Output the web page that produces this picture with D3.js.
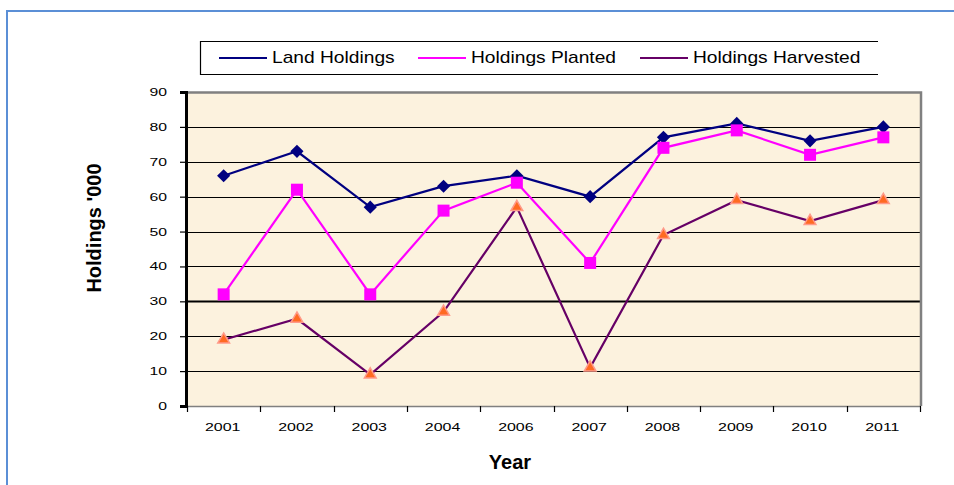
<!DOCTYPE html>
<html>
<head>
<meta charset="utf-8">
<script src="https://cdn.jsdelivr.net/npm/d3@7"></script>
<style>
  body { margin: 0; background: #fff; }
  svg { display: block; }
</style>
</head>
<body>
<svg id="chart" width="954" height="485"></svg>
<script>
// data
const years = ["2001", "2002", "2003", "2004", "2006", "2007", "2008", "2009", "2010", "2011"];
const landHoldings = [66, 73, 57, 63, 66, 60, 77, 81, 76, 80];
const holdingsPlanted = [32, 62, 32, 56, 64, 41, 74, 79, 72, 77];
const holdingsHarvested = [19, 25, 9, 27, 57, 11, 49, 59, 53, 59];
const yTicks = [0, 10, 20, 30, 40, 50, 60, 70, 80, 90];

const seriesNames = ["Land Holdings", "Holdings Planted", "Holdings Harvested"];

let svg = d3.select("#chart");
let plotLeft = 187, plotRight = 920, plotTop = 92, plotBottom = 406;

// outer frame (blue)
svg.append("rect")
    .attr("x", 7).attr("y", 11)
    .attr("width", 1000).attr("height", 1000)
    .attr("fill", "none")
    .attr("stroke", "#5b8fd6")
    .attr("stroke-width", 2);

let x = d3.scaleBand().domain(years).range([plotLeft, plotRight]).padding(0);
let y = d3.scaleLinear().domain([0, 90]).range([plotBottom, plotTop]);

// plot background
svg.append("rect")
    .attr("x", plotLeft).attr("y", plotTop)
    .attr("width", plotRight - plotLeft).attr("height", plotBottom - plotTop)
    .attr("fill", "#fcf2de");

// gridlines
svg.append("g").selectAll("line")
    .data(yTicks.filter(d => d > 0 && d < 90))
    .enter().append("line")
    .attr("x1", plotLeft).attr("x2", plotRight)
    .attr("y1", d => Math.round(y(d)) + 0.5)
    .attr("y2", d => Math.round(y(d)) + 0.5)
    .attr("stroke", "#000")
    .attr("stroke-width", d => d == 30 ? 2 : 1);

// plot border top / right (grey)
svg.append("path")
    .attr("d", "M" + plotLeft + "," + (plotTop + 0.5) + "H" + (plotRight + 1) + "V" + plotBottom)
    .attr("fill", "none")
    .attr("stroke", "#808080")
    .attr("stroke-width", 2.5);

// x axis
svg.append("line")
    .attr("x1", plotLeft).attr("x2", plotRight + 1)
    .attr("y1", plotBottom + 0.5).attr("y2", plotBottom + 0.5)
    .attr("stroke", "#808080").attr("stroke-width", 1.5);
let xTickPos = years.map(d => x(d)).concat([plotRight]);
svg.append("g").selectAll("line")
    .data(xTickPos)
    .enter().append("line")
    .attr("x1", d => Math.round(d) + 0.5).attr("x2", d => Math.round(d) + 0.5)
    .attr("y1", plotBottom).attr("y2", plotBottom + 6)
    .attr("stroke", "#000").attr("stroke-width", 1.2);

svg.append("g").selectAll("g")
    .data(years)
    .enter().append("g")
    .attr("transform", d => "translate(" + (x(d) + x.bandwidth() / 2 - 1) + "," + 431 + ") scale(1.45,1)")
    .append("text")
    .attr("text-anchor", "middle")
    .attr("font-family", "Liberation Sans, Arial, sans-serif")
    .attr("font-size", "11px")
    .attr("fill", "#000")
    .text(d => d);

// y axis
let yAxis = svg.append("g")
    .attr("transform", "translate(" + (plotLeft - 1) + ",0)")
    .call(d3.axisLeft(y).tickValues(yTicks).tickSize(6).tickFormat(""));
yAxis.select(".domain").attr("stroke", "#000").attr("stroke-width", 3);
yAxis.selectAll(".tick line").attr("stroke", "#000").attr("stroke-width", 1.2);

svg.append("g").selectAll("g")
    .data(yTicks)
    .enter().append("g")
    .attr("transform", d => "translate(" + 167 + "," + (y(d) + 4) + ") scale(1.5,1)")
    .append("text")
    .attr("text-anchor", "end")
    .attr("font-family", "Liberation Sans, Arial, sans-serif")
    .attr("font-size", "10.5px")
    .attr("fill", "#000")
    .text(d => d);

// axis titles
svg.append("text")
    .attr("x", 510).attr("y", 469)
    .attr("text-anchor", "middle")
    .attr("font-family", "Liberation Sans, Arial, sans-serif")
    .attr("font-size", "20px")
    .attr("font-weight", "bold")
    .text("Year");

svg.append("text")
    .attr("transform", "translate(101,228) rotate(-90)")
    .attr("text-anchor", "middle")
    .attr("font-family", "Liberation Sans, Arial, sans-serif")
    .attr("font-size", "20px")
    .attr("font-weight", "bold")
    .text("Holdings '000");

// lines
let line = d3.line()
    .x((d, i) => x(years[i]) + x.bandwidth() / 2)
    .y(d => y(d));

let diamond = d3.symbol().type(d3.symbolDiamond2);
let square = d3.symbol().type(d3.symbolSquare);
let triangle = d3.symbol().type(d3.symbolTriangle);

function drawSeries(values, color, width) {
    svg.append("path")
        .datum(values)
        .attr("d", line)
        .attr("fill", "none")
        .attr("stroke", color)
        .attr("stroke-width", width);
}

drawSeries(landHoldings, "#000080", 2.2);
drawSeries(holdingsPlanted, "#ff00ff", 2.2);
drawSeries(holdingsHarvested, "#660066", 2.2);

svg.append("g").selectAll("path")
    .data(landHoldings)
    .enter().append("path")
    .attr("d", diamond.size(110))
    .attr("transform", (d, i) => "translate(" + (x(years[i]) + x.bandwidth() / 2) + "," + y(d) + ")")
    .attr("fill", "#000080");

svg.append("g").selectAll("path")
    .data(holdingsPlanted)
    .enter().append("path")
    .attr("d", square.size(144))
    .attr("transform", (d, i) => "translate(" + (x(years[i]) + x.bandwidth() / 2) + "," + y(d) + ")")
    .attr("fill", "#ff00ff");

svg.append("g").selectAll("path")
    .data(holdingsHarvested)
    .enter().append("path")
    .attr("d", triangle.size(60))
    .attr("transform", (d, i) => "translate(" + (x(years[i]) + x.bandwidth() / 2) + "," + y(d) + ")")
    .attr("fill", "#ff6a21")
    .attr("stroke", "#ff9a8a")
    .attr("stroke-width", 1.5);

// legend
svg.append("path")
    .attr("d", "M878,41.5H200.5V74.5H878")
    .attr("fill", "none")
    .attr("stroke", "#000")
    .attr("stroke-width", 1.2);

let legendX = [219, 418, 640];
let legendColors = ["#000080", "#ff00ff", "#660066"];
let legendSymbols = [diamond.size(40), square.size(50), triangle.size(50)];
let legendFill = ["#000080", "#ff00ff", "#ff6a21"];

let leg = svg.append("g").selectAll("g")
    .data(seriesNames)
    .enter().append("g")
    .attr("transform", (d, i) => "translate(" + legendX[i] + ",58)");
leg.append("line")
    .attr("x1", 0).attr("x2", 48)
    .attr("stroke", (d, i) => legendColors[i])
    .attr("stroke-width", 2);
leg.append("path")
    .attr("d", (d, i) => legendSymbols[i])
    .attr("transform", "translate(24,0)")
    .attr("fill", (d, i) => legendFill[i]);
leg.append("g")
    .attr("transform", "translate(53,5) scale(1.2,1)")
    .append("text")
    .attr("font-family", "Liberation Sans, Arial, sans-serif")
    .attr("font-size", "16px")
    .attr("fill", "#000")
    .text(d => d);
</script>
</body>
</html>
